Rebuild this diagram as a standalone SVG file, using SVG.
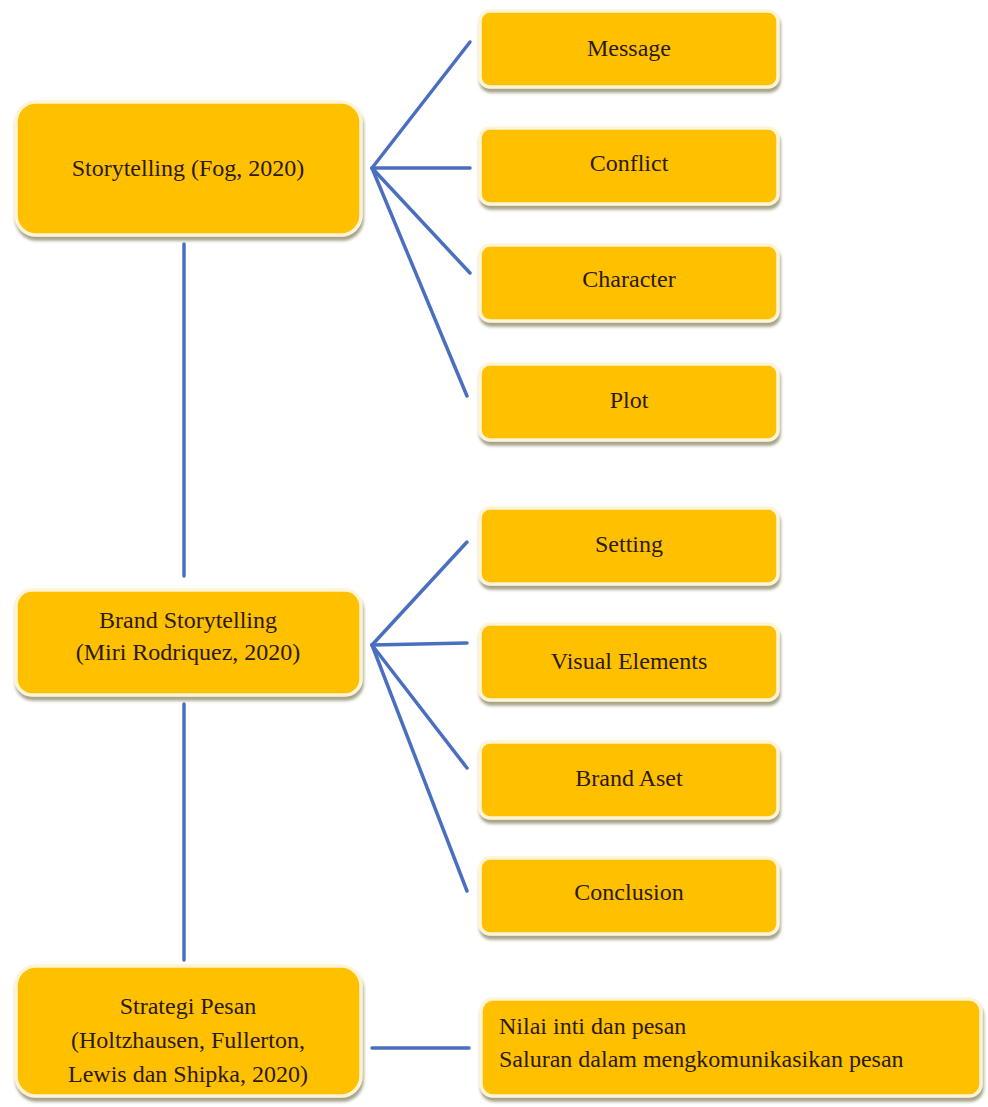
<svg xmlns="http://www.w3.org/2000/svg" width="988" height="1107" viewBox="0 0 988 1107">
<defs>
<filter id="sh" x="-10%" y="-20%" width="120%" height="150%">
<feDropShadow dx="1" dy="4" stdDeviation="1.5" flood-color="#8f8b6a" flood-opacity="0.8"/>
</filter>
</defs>
<style>
.box{fill:#FFC000;stroke:#FFF4D6;stroke-width:3.5;filter:url(#sh)}
.t{font-family:"Liberation Serif","Times New Roman",serif;font-size:24px;fill:#2b1a0e;text-anchor:middle}
.tl{font-family:"Liberation Serif","Times New Roman",serif;font-size:24px;fill:#2b1a0e}
.c{stroke:#4a6fbf;stroke-width:3.5;fill:none;stroke-linecap:round}
</style>
<rect width="988" height="1107" fill="#ffffff"/>
<g id="connectors">
<line class="c" x1="184" y1="244" x2="184" y2="576"/>
<line class="c" x1="184" y1="704" x2="184" y2="960"/>
<line class="c" x1="372" y1="168" x2="470" y2="42"/>
<line class="c" x1="372" y1="168" x2="470" y2="168"/>
<line class="c" x1="372" y1="168" x2="470" y2="273"/>
<line class="c" x1="372" y1="168" x2="467" y2="396"/>
<line class="c" x1="372" y1="645" x2="467" y2="542"/>
<line class="c" x1="372" y1="645" x2="467" y2="643"/>
<line class="c" x1="372" y1="645" x2="467" y2="768"/>
<line class="c" x1="372" y1="645" x2="467" y2="891"/>
<line class="c" x1="372" y1="1048" x2="469" y2="1048"/>
</g>
<g id="storytelling"><rect class="box" x="16" y="102" width="345" height="133" rx="20"/><text class="t" x="188" y="176">Storytelling (Fog, 2020)</text></g>
<g id="brand-storytelling"><rect class="box" x="16" y="590" width="345" height="105" rx="16"/><text class="t" x="188" y="628">Brand Storytelling</text><text class="t" x="188" y="660">(Miri Rodriquez, 2020)</text></g>
<g id="strategi-pesan"><rect class="box" x="16" y="966" width="345" height="130" rx="20"/><text class="t" x="188" y="1014">Strategi Pesan</text><text class="t" x="188" y="1048">(Holtzhausen, Fullerton,</text><text class="t" x="188" y="1082">Lewis dan Shipka, 2020)</text></g>
<g id="message"><rect class="box" x="480" y="11" width="298" height="76" rx="10"/><text class="t" x="629" y="56">Message</text></g>
<g id="conflict"><rect class="box" x="480" y="128" width="298" height="76" rx="10"/><text class="t" x="629" y="171">Conflict</text></g>
<g id="character"><rect class="box" x="480" y="245" width="298" height="76" rx="10"/><text class="t" x="629" y="287">Character</text></g>
<g id="plot"><rect class="box" x="480" y="364" width="298" height="76" rx="10"/><text class="t" x="629" y="408">Plot</text></g>
<g id="setting"><rect class="box" x="480" y="508" width="298" height="76" rx="10"/><text class="t" x="629" y="552">Setting</text></g>
<g id="visual-elements"><rect class="box" x="480" y="624" width="298" height="76" rx="10"/><text class="t" x="629" y="669">Visual Elements</text></g>
<g id="brand-aset"><rect class="box" x="480" y="742" width="298" height="76" rx="10"/><text class="t" x="629" y="786">Brand Aset</text></g>
<g id="conclusion"><rect class="box" x="480" y="858" width="298" height="76" rx="10"/><text class="t" x="629" y="900">Conclusion</text></g>
<g id="nilai"><rect class="box" x="481" y="999" width="500" height="97" rx="12"/><text class="tl" x="499" y="1034">Nilai inti dan pesan</text><text class="tl" x="499" y="1067">Saluran dalam mengkomunikasikan pesan</text></g>
</svg>
